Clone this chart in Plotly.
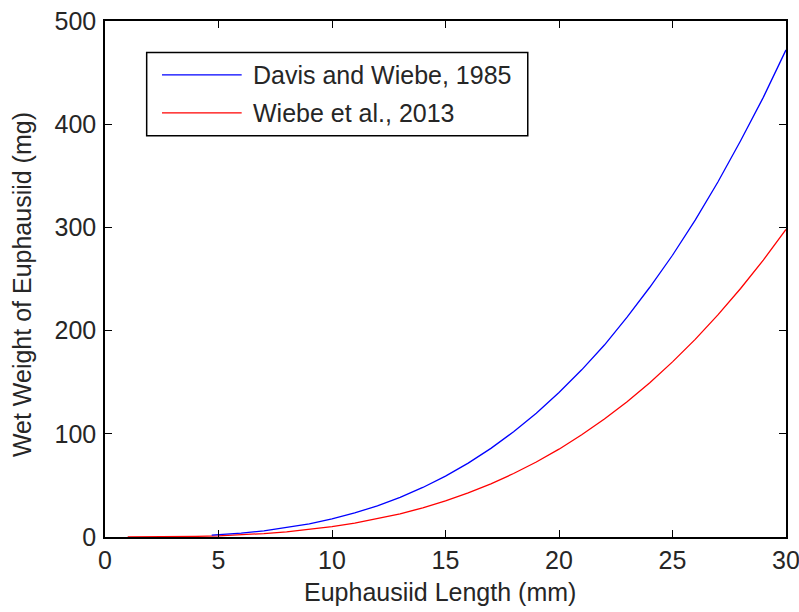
import plotly.graph_objects as go

# Euphausiid length (mm) and wet weight (mg) for the two length-weight relations
length_davis = [4.7, 5, 6, 7, 8, 9, 10, 11, 12, 13, 14, 15, 16, 17, 18, 19, 20,
                21, 22, 23, 24, 25, 26, 27, 28, 29, 30]
weight_davis = [1.8, 2.2, 3.8, 6.0, 9.0, 12.7, 17.5, 23.3, 30.2, 38.4, 48.0, 59.0,
                71.6, 85.9, 102, 120, 140, 162, 186, 213, 242, 273, 307, 344, 384,
                426, 472]

length_wiebe = [1, 2, 3, 4, 5, 6, 7, 8, 9, 10, 11, 12, 13, 14, 15, 16, 17, 18, 19,
                20, 21, 22, 23, 24, 25, 26, 27, 28, 29, 30]
weight_wiebe = [0.01, 0.07, 0.24, 0.59, 1.17, 2.06, 3.32, 5.02, 7.22, 10.0, 13.4,
                17.6, 22.5, 28.3, 35.0, 42.7, 51.5, 61.5, 72.7, 85.1, 99.0, 114.3,
                131.1, 149.5, 169.7, 191.5, 215.2, 240.8, 268.3, 298]

series_names = ["Davis and Wiebe, 1985", "Wiebe et al., 2013"]
series_colors = ["#0000ff", "#ff0000"]

x_ticks = [0, 5, 10, 15, 20, 25, 30]
y_ticks = [0, 100, 200, 300, 400, 500]

FONT = "Liberation Sans, Arial, sans-serif"
TEXT = "#262626"
FS = 25

fig = go.Figure()
fig.add_trace(go.Scatter(x=length_wiebe, y=weight_wiebe, mode="lines",
                         line=dict(color=series_colors[1], width=1.3),
                         name=series_names[1], showlegend=False))
fig.add_trace(go.Scatter(x=length_davis, y=weight_davis, mode="lines",
                         line=dict(color=series_colors[0], width=1.3),
                         name=series_names[0], showlegend=False))

axis_common = dict(
    showgrid=False, zeroline=False, showline=True, linecolor="black",
    linewidth=1.5, mirror="ticks", ticks="inside", ticklen=7, tickwidth=1.2,
    tickcolor="black", tickfont=dict(family=FONT, size=FS, color=TEXT),
    automargin=False, ticklabeloverflow="allow",
)

fig.update_xaxes(range=[0, 30], tickvals=x_ticks, **axis_common)
fig.update_yaxes(range=[0, 500], tickvals=y_ticks, ticklabelstandoff=2,
                 **axis_common)

# Boxed legend in the upper-left of the axes
box_x0, box_x1 = 0.0612, 0.6208
box_y0, box_y1 = 0.7774, 0.9388
line_x0, line_x1 = 0.0837, 0.2007
text_x = 0.2140
row_y = [0.8955, 0.8219]

shapes = [dict(type="rect", xref="paper", yref="paper", x0=box_x0, x1=box_x1,
               y0=box_y0, y1=box_y1, line=dict(color="black", width=1.5),
               fillcolor="white", layer="above")]
annotations = []
for name, color, yy in zip(series_names, series_colors, row_y):
    shapes.append(dict(type="line", xref="paper", yref="paper", x0=line_x0,
                       x1=line_x1, y0=yy, y1=yy,
                       line=dict(color=color, width=1.3), layer="above"))
    annotations.append(dict(xref="paper", yref="paper", x=text_x, y=yy,
                            xanchor="left", yanchor="middle", text=name,
                            showarrow=False,
                            font=dict(family=FONT, size=FS, color=TEXT)))

# Axis titles
annotations.append(dict(xref="paper", yref="paper", x=0.492, y=-0.106,
                        xanchor="center", yanchor="middle",
                        text="Euphausiid Length (mm)", showarrow=False,
                        font=dict(family=FONT, size=FS, color=TEXT)))
annotations.append(dict(xref="paper", yref="paper", x=-0.122, y=0.49,
                        xanchor="center", yanchor="middle", textangle=-90,
                        text="Wet Weight of Euphausiid (mg)", showarrow=False,
                        font=dict(family=FONT, size=FS, color=TEXT)))

fig.update_layout(
    width=799, height=612,
    margin=dict(l=105, r=13, t=21, b=75),
    paper_bgcolor="white", plot_bgcolor="white",
    shapes=shapes, annotations=annotations,
    showlegend=False,
)

fig.write_html("out.html")
